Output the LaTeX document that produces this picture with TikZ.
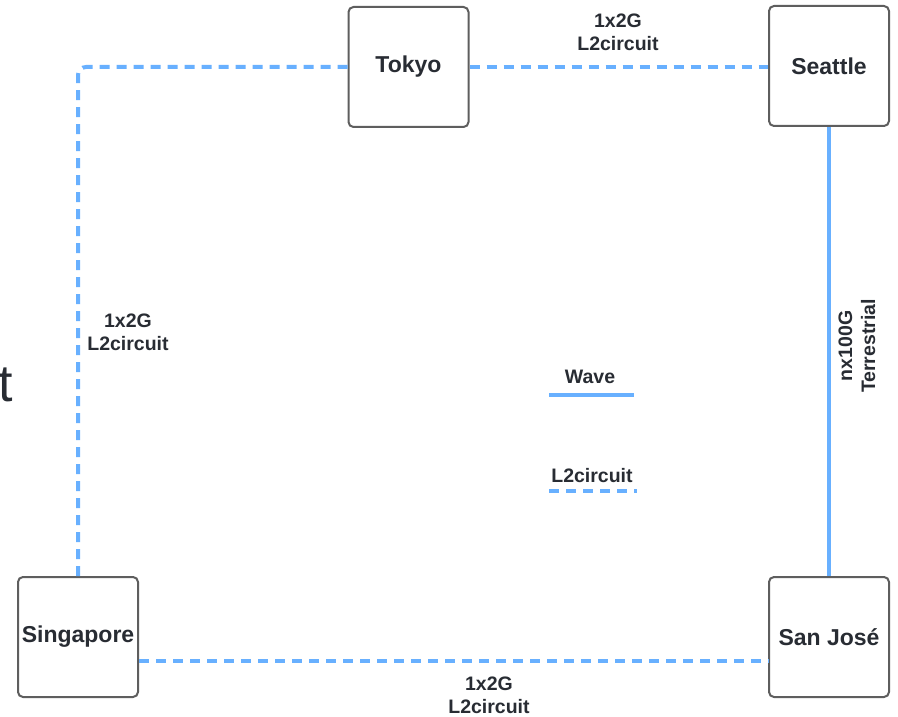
\documentclass[tikz,border=0pt]{standalone}
\usepackage{fontspec}
\setmainfont{Liberation Sans}
\definecolor{linkblue}{RGB}{104,176,255}
\definecolor{boxgray}{RGB}{94,94,94}
\definecolor{inkdark}{RGB}{40,44,51}
\begin{document}
\begin{tikzpicture}[x=1pt,y=-1pt,
  site/.style={draw=boxgray,line width=2pt,rounded corners=5pt,fill=white,
    minimum width=120pt,minimum height=120pt,inner sep=0pt,
    font=\fontsize{23}{26}\selectfont\bfseries,text=inkdark},
  lbl/.style={font=\fontsize{19.5}{23}\selectfont\bfseries,text=inkdark,align=center,inner sep=0pt},
  wave/.style={draw=linkblue,line width=4pt},
  l2c/.style={draw=linkblue,line width=4pt,dash pattern=on 10pt off 7pt}]
\useasboundingbox (0,0) rectangle (898,717);
\fill[white] (0,0) rectangle (898,717);

% sites
\node[site] (tokyo) at (408.5,67) {Tokyo};
\node[site] (seattle) at (829,66) {Seattle};
\node[site] (singapore) at (78,637) {Singapore};
\node[site] (sanjose) at (829,637) {San José};

% links
\coordinate (corner) at (78,67);
\coordinate (sgE) at (139,661);
\coordinate (sjW) at (769,661);
\draw[l2c,rounded corners=8pt] (tokyo.west) -- (corner) -- (singapore.north);
\draw[l2c] (tokyo.east) -- (seattle.west |- tokyo.east);
\draw[wave] (seattle.south) -- (sanjose.north);
\draw[l2c] (sgE) -- (sjW);

% link labels
\node[lbl] (lblTS) at (618,32) {1x2G\\L2circuit};
\node[lbl] (lblTSg) at (128,332) {1x2G\\L2circuit};
\node[lbl] (lblSS) at (489,695) {1x2G\\L2circuit};
\node[lbl,rotate=90] (lblSJ) at (857,346) {nx100G\\Terrestrial};

% legend
\node[lbl] (legwave) at (590,377) {Wave};
\coordinate (w1) at (549,395);
\coordinate (w2) at (634,395);
\draw[wave] (w1) -- (w2);
\node[lbl] (legl2) at (592,476) {L2circuit};
\coordinate (d1) at (549,491);
\coordinate (d2) at (637,491);
\draw[l2c] (d1) -- (d2);

% clipped title fragment at the left edge
\node[anchor=east,inner sep=0pt,text=inkdark,font=\fontsize{52}{52}\selectfont] (frag) at (13,385) {t};
\end{tikzpicture}
\end{document}
